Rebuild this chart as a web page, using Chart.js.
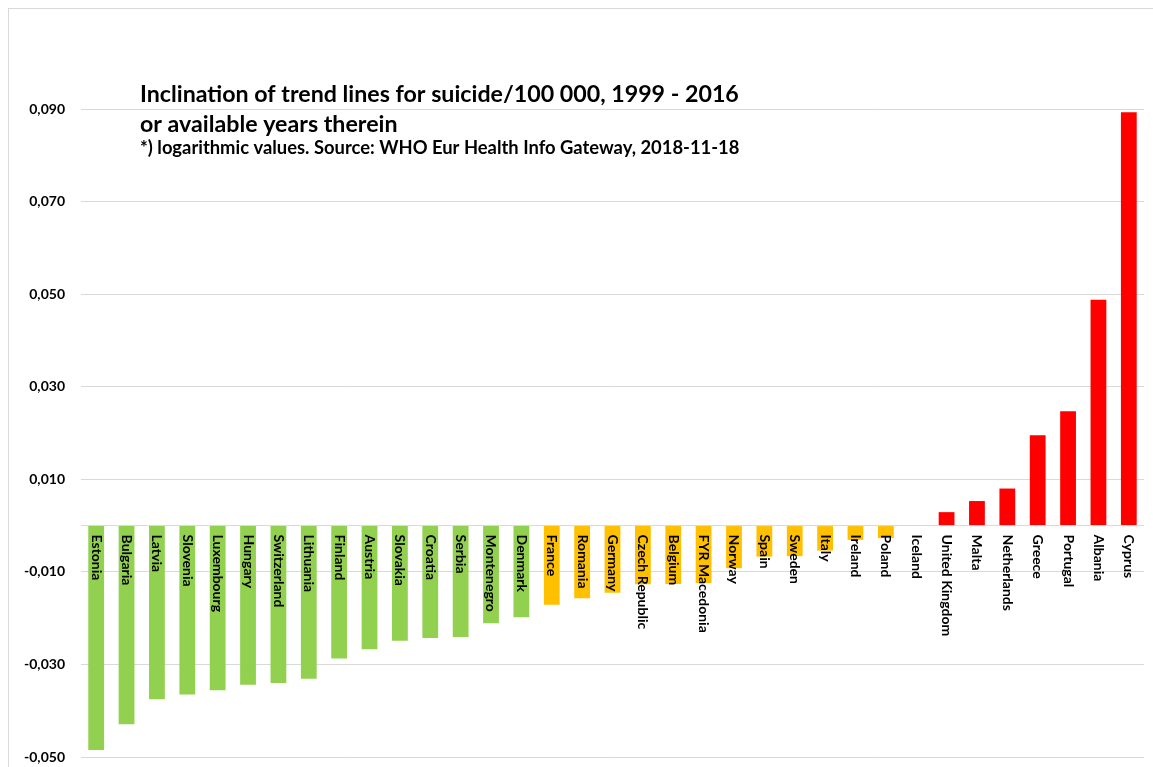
<!DOCTYPE html>
<html lang="en">
<head>
  <meta charset="UTF-8" />
  <title>Inclination of trend lines for suicide</title>
  <script src="https://cdn.jsdelivr.net/npm/chart.js"></script>
  <style>
    html, body { margin: 0; padding: 0; background: #fff; }
    canvas { display: block; }
  </style>
</head>
<body>
  <canvas id="trendChart" width="1153" height="767"></canvas>

  <script>
    // Countries, in the order shown
    const countries = [
      'Estonia', 'Bulgaria', 'Latvia', 'Slovenia', 'Luxembourg', 'Hungary', 'Switzerland',
      'Lithuania', 'Finland', 'Austria', 'Slovakia', 'Croatia', 'Serbia', 'Montenegro',
      'Denmark', 'France', 'Romania', 'Germany', 'Czech Republic', 'Belgium', 'FYR Macedonia',
      'Norway', 'Spain', 'Sweden', 'Italy', 'Ireland', 'Poland', 'Iceland', 'United Kingdom',
      'Malta', 'Netherlands', 'Greece', 'Portugal', 'Albania', 'Cyprus'
    ];

    // Slope of trend line (log values)
    const slopes = [
      -0.0485, -0.0429, -0.0375, -0.0365, -0.0356, -0.0344, -0.0340,
      -0.0331, -0.0287, -0.0267, -0.0249, -0.0243, -0.0241, -0.0211,
      -0.0198, -0.0171, -0.0157, -0.0145, -0.0127, -0.0126, -0.0124,
      -0.0092, -0.0067, -0.0066, -0.0054, -0.0031, -0.0027, 0.0000, 0.0029,
      0.0053, 0.0080, 0.0195, 0.0247, 0.0488, 0.0893
    ];

    // Group of each country: clear fall, small fall, rise
    const groups = [
      'fall', 'fall', 'fall', 'fall', 'fall', 'fall', 'fall',
      'fall', 'fall', 'fall', 'fall', 'fall', 'fall', 'fall',
      'fall', 'small', 'small', 'small', 'small', 'small', 'small',
      'small', 'small', 'small', 'small', 'small', 'small', 'small', 'rise',
      'rise', 'rise', 'rise', 'rise', 'rise', 'rise'
    ];

    const yTicks = [-0.05, -0.03, -0.01, 0.01, 0.03, 0.05, 0.07, 0.09];

    const titleLines = [
      'Inclination of trend lines for suicide/100 000, 1999 - 2016',
      'or available years therein'
    ];
    const subTitle = '*) logarithmic values. Source: WHO Eur Health Info Gateway, 2018-11-18';

    const groupColors = { fall: '#92D050', small: '#FFC000', rise: '#FF0000' };
    const FONT = 'Lato, "Open Sans", sans-serif';

    const fmt = v => v.toFixed(3).replace('.', ',');

    // Border + title
    const framePlugin = {
      id: 'frame',
      beforeDraw(chart) {
        const c = chart.ctx;
        c.save();
        c.fillStyle = '#fff';
        c.fillRect(0, 0, chart.width, chart.height);
        c.strokeStyle = '#d9d9d9';
        c.lineWidth = 1;
        c.strokeRect(8.5, 8.5, chart.width, chart.height);
        c.restore();
      },
      afterDraw(chart) {
        const c = chart.ctx;
        c.save();
        c.fillStyle = '#000';
        c.textAlign = 'left';
        c.textBaseline = 'alphabetic';

        // fit the font to the width of the lines in the original
        c.font = 'bold 20px ' + FONT;
        let size = 20 * 599 / c.measureText(titleLines[0]).width;
        c.font = 'bold ' + size.toFixed(2) + 'px ' + FONT;
        c.fillText(titleLines[0], 140, 102);
        c.fillText(titleLines[1], 140, 132);

        c.font = 'bold 15px ' + FONT;
        size = 15 * 600 / c.measureText(subTitle).width;
        c.font = 'bold ' + size.toFixed(2) + 'px ' + FONT;
        c.fillText(subTitle, 140, 153.5);
        c.restore();
      }
    };

    // Country names written down from the zero line
    const barLabelPlugin = {
      id: 'barLabels',
      afterDatasetsDraw(chart) {
        const c = chart.ctx;
        const x = chart.scales.x;
        const y0 = chart.scales.y.getPixelForValue(0);
        c.save();
        c.fillStyle = '#000';
        c.font = 'bold 14px ' + FONT;
        c.textAlign = 'left';
        c.textBaseline = 'middle';
        countries.forEach((name, i) => {
          c.save();
          c.translate(x.getPixelForValue(i), y0 + 9);
          c.rotate(Math.PI / 2);
          c.fillText(name, 0, 0);
          c.restore();
        });
        c.restore();
      }
    };

    const ctx = document.getElementById('trendChart').getContext('2d');

    new Chart(ctx, {
      type: 'bar',
      data: {
        labels: countries,
        datasets: [{
          data: slopes,
          backgroundColor: groups.map(g => groupColors[g]),
          borderWidth: 0,
          categoryPercentage: 1,
          barPercentage: 0.52
        }]
      },
      options: {
        responsive: false,
        animation: false,
        layout: { padding: { left: 0, top: 109, right: 9, bottom: 10 } },
        plugins: {
          legend: { display: false },
          tooltip: { enabled: false },
          title: { display: false }
        },
        scales: {
          x: {
            display: false
          },
          y: {
            min: yTicks[0],
            max: yTicks[yTicks.length - 1],
            afterFit(scale) {
              scale.width = 81;
              scale.paddingTop = 0;
              scale.paddingBottom = 0;
            },
            afterBuildTicks(scale) {
              // ticks at the labelled values, plus the zero line
              const vals = yTicks.concat([0]).sort((a, b) => a - b);
              scale.ticks = vals.map(v => ({ value: v }));
            },
            ticks: {
              padding: 16,
              color: '#000',
              font: { family: FONT, size: 14, weight: 'bold' },
              callback: v => Math.abs(v) < 1e-9 ? '' : fmt(v)
            },
            grid: {
              color: '#d9d9d9',
              lineWidth: 1,
              drawTicks: false
            },
            border: { display: false }
          }
        }
      },
      plugins: [framePlugin, barLabelPlugin]
    });
  </script>
</body>
</html>
